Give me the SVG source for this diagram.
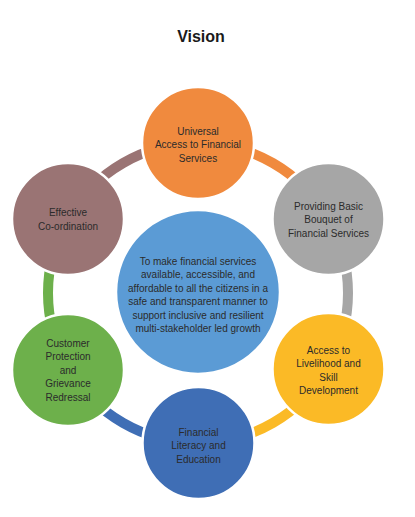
<svg xmlns="http://www.w3.org/2000/svg" width="415" height="517" viewBox="0 0 415 517">
<style>
.t{font-family:"Liberation Sans",Arial,sans-serif;font-size:10px;fill:#2b2b2b;text-anchor:middle}
.title{font-family:"Liberation Sans",Arial,sans-serif;font-size:16px;font-weight:bold;fill:#1a1a1a;text-anchor:middle}
.arc{fill:none;stroke-width:10}
.n{stroke:#fff;stroke-width:2.5}
</style>
<rect width="415" height="517" fill="#fff"/>
<text class="title" x="201" y="42">Vision</text>
<g id="connectors">
<path class="arc" stroke="#F08A3E" d="M198 143 A150 150 0 0 1 327.9 218"/>
<path class="arc" stroke="#A6A6A6" d="M327.9 218 A150 150 0 0 1 327.9 368"/>
<path class="arc" stroke="#FBBA26" d="M327.9 368 A150 150 0 0 1 198 443"/>
<path class="arc" stroke="#3F6EB5" d="M198 443 A150 150 0 0 1 68.1 368"/>
<path class="arc" stroke="#6DB04B" d="M68.1 368 A150 150 0 0 1 68.1 218"/>
<path class="arc" stroke="#9A7474" d="M68.1 218 A150 150 0 0 1 198 143"/>
</g>
<g id="center">
<circle class="n" cx="198" cy="292" r="82" fill="#5B9BD5"/>
<text class="t" x="198"><tspan x="198" y="264.5">To make financial services</tspan><tspan x="198" y="278">available, accessible, and</tspan><tspan x="198" y="291.5">affordable to all the citizens in a</tspan><tspan x="198" y="305">safe and transparent manner to</tspan><tspan x="198" y="318.5">support inclusive and resilient</tspan><tspan x="198" y="332">multi-stakeholder led growth</tspan></text>
</g>
<g id="n1">
<circle class="n" cx="198" cy="143" r="56" fill="#F08A3E"/>
<text class="t"><tspan x="198" y="134.5">Universal</tspan><tspan x="198" y="148">Access to Financial</tspan><tspan x="198" y="161.5">Services</tspan></text>
</g>
<g id="n2">
<circle class="n" cx="328.5" cy="219" r="56" fill="#A6A6A6"/>
<text class="t"><tspan x="328.5" y="209.5">Providing Basic</tspan><tspan x="328.5" y="223">Bouquet of</tspan><tspan x="328.5" y="236.5">Financial Services</tspan></text>
</g>
<g id="n3">
<circle class="n" cx="328.5" cy="369" r="56" fill="#FBBA26"/>
<text class="t"><tspan x="328.5" y="353.5">Access to</tspan><tspan x="328.5" y="367">Livelihood and</tspan><tspan x="328.5" y="380.5">Skill</tspan><tspan x="328.5" y="394">Development</tspan></text>
</g>
<g id="n4">
<circle class="n" cx="198.5" cy="443" r="56" fill="#3F6EB5"/>
<text class="t"><tspan x="198.5" y="435.5">Financial</tspan><tspan x="198.5" y="449">Literacy and</tspan><tspan x="198.5" y="462.5">Education</tspan></text>
</g>
<g id="n5">
<circle class="n" cx="68" cy="370" r="56" fill="#6DB04B"/>
<text class="t"><tspan x="68" y="346.5">Customer</tspan><tspan x="68" y="360">Protection</tspan><tspan x="68" y="373.5">and</tspan><tspan x="68" y="387">Grievance</tspan><tspan x="68" y="400.5">Redressal</tspan></text>
</g>
<g id="n6">
<circle class="n" cx="68" cy="219" r="56" fill="#9A7474"/>
<text class="t"><tspan x="68" y="215.5">Effective</tspan><tspan x="68" y="229.5">Co-ordination</tspan></text>
</g>
</svg>
